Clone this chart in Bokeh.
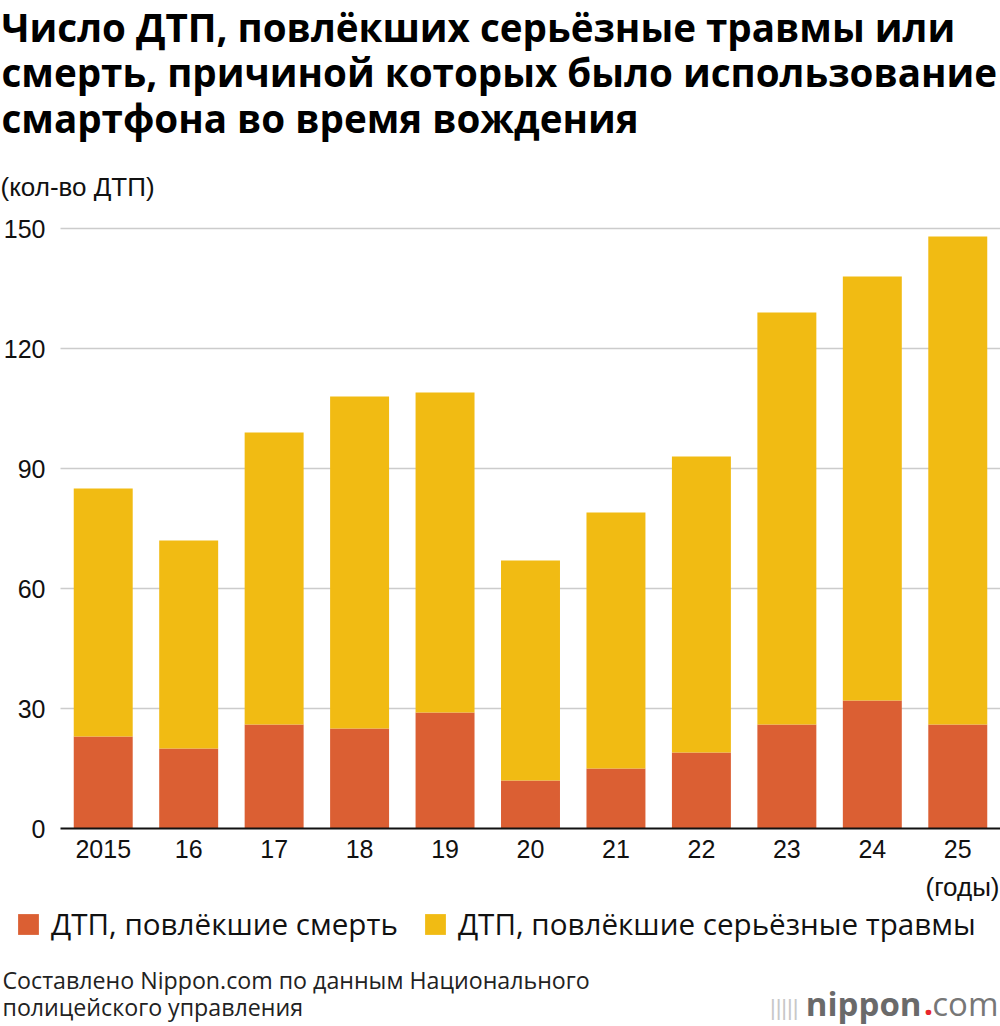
from bokeh.plotting import figure
from bokeh.models import (Range1d, Label, Legend, LegendItem, ColumnDataSource)
from bokeh.core.properties import value
from bokeh.embed import file_html
from bokeh.resources import INLINE

# ---------------- data ----------------
years = ["2015", "16", "17", "18", "19", "20", "21", "22", "23", "24", "25"]
deaths = [23, 20, 26, 25, 29, 12, 15, 19, 26, 32, 26]
totals = [85, 72, 99, 108, 109, 67, 79, 93, 129, 138, 148]
injuries = [t - d for t, d in zip(totals, deaths)]
y_ticks = [0, 30, 60, 90, 120, 150]
y_tick_labels = [str(t) for t in y_ticks]

title_lines = [
    "Число ДТП, повлёкших серьёзные травмы или",
    "смерть, причиной которых было использование",
    "смартфона во время вождения",
]
y_unit = "(кол-во ДТП)"
x_unit = "(годы)"
series_names = ["ДТП, повлёкшие смерть", "ДТП, повлёкшие серьёзные травмы"]
source_lines = ["Составлено Nippon.com по данным Национального",
                "полицейского управления"]

ORANGE = "#DB5F33"
YELLOW = "#F1BB13"

# ---------------- page geometry (pixels -> data) ----------------
W, H = 1000, 1026
PLOT_LEFT_PX = 60          # where the first category slot starts
ZERO_PX = 828              # where y = 0 lies
PX_PER_CAT = (W - PLOT_LEFT_PX) / len(years)
PX_PER_UNIT = 4.0
BASE_SHIFT = 0.3           # rendered baseline sits ~0.3em below requested y


def dx(px):
    return (px - PLOT_LEFT_PX) / PX_PER_CAT


def dy(py):
    return (ZERO_PX - py) / PX_PER_UNIT


p = figure(width=W, height=H,
           x_range=Range1d(dx(0), dx(W)), y_range=Range1d(dy(H), dy(0)),
           min_border=0, min_border_left=0, min_border_right=0,
           min_border_top=0, min_border_bottom=0,
           x_axis_type=None, y_axis_type=None,
           output_backend="svg", toolbar_location=None)
p.outline_line_color = None
p.background_fill_color = "white"
p.border_fill_color = "white"

# ---------------- grid ----------------
grid_src = ColumnDataSource(dict(y=y_ticks[1:]))
p.segment(x0=0, x1=len(years), y0="y", y1="y", source=grid_src,
          line_color="#cccccc", line_width=1.5)

# ---------------- bars ----------------
x_pos = [i + 0.5 for i in range(len(years))]
src = ColumnDataSource(dict(x=x_pos, year=years, death=deaths, injury=injuries))
rs = p.vbar_stack(["death", "injury"], x="x", width=0.69, source=src,
                  fill_color=[ORANGE, YELLOW], line_color=None)

# baseline at zero
p.segment(x0=[0], x1=[len(years)], y0=[y_ticks[0]], y1=[y_ticks[0]],
          line_color="#111111", line_width=2)

# ---------------- tick labels ----------------
ytl = ColumnDataSource(dict(y=y_ticks, t=y_tick_labels))
p.text(x=dx(45), y="y", text="t", source=ytl,
       text_font=value("Liberation Sans"), text_font_size="25px",
       text_color="#111111", text_align="right", text_baseline="middle")

p.text(x="x", y=dy(856 - BASE_SHIFT * 25), text="year", source=src,
       text_font=value("Liberation Sans"), text_font_size="25px",
       text_color="#111111", text_align="center", text_baseline="alphabetic")


# ---------------- free texts ----------------
def add_text(text, px, py, font="Open Sans", size=22, style="normal",
             color="#111111", align="left"):
    p.add_layout(Label(x=dx(px), y=dy(py - BASE_SHIFT * size), text=text,
                       text_font=font,
                       text_font_size=f"{size}px", text_font_style=style,
                       text_color=color, text_align=align,
                       text_baseline="alphabetic"))


for line, by in zip(title_lines, [38, 83.5, 129]):
    add_text(line, 1, by, size=38.6, style="bold", color="#000000")

add_text(y_unit, 0, 194.5, font="Liberation Sans", size=26)
add_text(x_unit, 999, 894.5, font="Liberation Sans", size=26, align="right")

for line, by in zip(source_lines, [986, 1013]):
    add_text(line, 2, by, size=23.2, color="#222222")

# logo
add_text("|||||", 798, 1014, font="Liberation Sans", size=22,
         color="#c8c8c8", align="right")
add_text("nippon", 921, 1013, size=33, style="bold", color="#6a6a6a",
         align="right")
add_text(".", 928, 1013, size=33, style="bold", color="#e8262d",
         align="center")
add_text("com", 998, 1013, size=33, color="#777777", align="right")

# ---------------- legend ----------------
legend = Legend(items=[LegendItem(label=series_names[0], renderers=[rs[0]]),
                       LegendItem(label=series_names[1], renderers=[rs[1]])],
                orientation="horizontal",
                location=(15, H - 944),
                glyph_width=26, glyph_height=26, label_standoff=10,
                spacing=24, padding=0, margin=0,
                label_text_font="Open Sans", label_text_font_size="29.6px",
                label_text_color="#111111",
                border_line_color=None, background_fill_alpha=0)
p.add_layout(legend, "center")

open("out.html", "w").write(file_html(p, INLINE))
